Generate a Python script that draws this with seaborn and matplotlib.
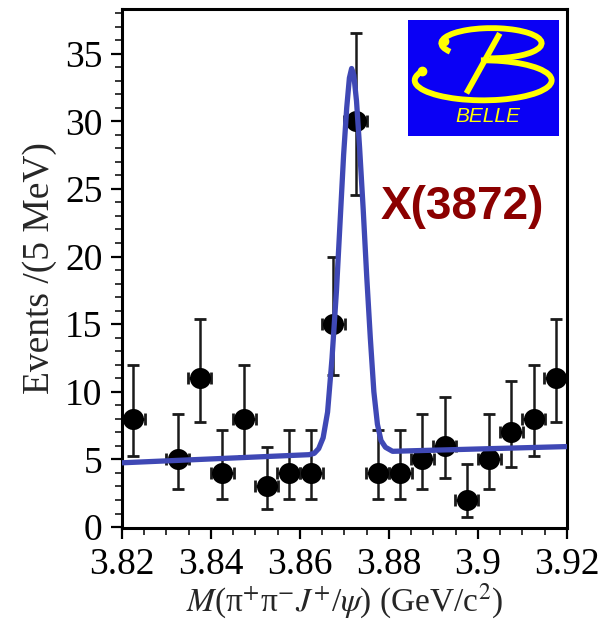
import numpy as np
import pandas as pd
import seaborn as sns
import matplotlib
matplotlib.use("Agg")
import matplotlib.pyplot as plt
from matplotlib.patches import Arc, Rectangle
from matplotlib.ticker import MultipleLocator

# ---- data ----
mass = [3.8225, 3.8325, 3.8375, 3.8425, 3.8475, 3.8525, 3.8575, 3.8625, 3.8675, 3.8725,
        3.8775, 3.8825, 3.8875, 3.8925, 3.8975, 3.9025, 3.9075, 3.9125, 3.9175]
events = [8, 5, 11, 4, 8, 3, 4, 4, 15, 30, 4, 4, 5, 6, 2, 5, 7, 8, 11]
err_lo = [2.77, 2.16, 3.27, 1.91, 2.77, 1.63, 1.91, 1.91, 3.77, 5.45,
          1.91, 1.91, 2.16, 2.38, 1.29, 2.16, 2.58, 2.77, 3.27]
err_hi = [3.95, 3.38, 4.41, 3.16, 3.95, 2.92, 3.16, 3.16, 4.96, 6.55,
          3.16, 3.16, 3.38, 3.58, 2.64, 3.38, 3.77, 3.95, 4.41]
bin_half = 0.0026

fit_x = [3.8200, 3.8620, 3.8632, 3.8642, 3.8652, 3.8662, 3.8672, 3.8682, 3.8690, 3.8698,
         3.8705, 3.8711, 3.8716, 3.8721, 3.8727, 3.8734, 3.8742, 3.8750, 3.8758, 3.8766,
         3.8774, 3.8782, 3.8792, 3.8808, 3.9200]
fit_y = [4.75, 5.35, 5.45, 5.8, 6.6, 8.5, 12.5, 17.5, 22.5, 27.5,
         31.0, 33.2, 33.9, 33.4, 31.5, 28.0, 23.5, 18.5, 14.0, 10.0,
         7.6, 6.4, 5.9, 5.6, 5.95]

x_ticks = [3.82, 3.84, 3.86, 3.88, 3.90, 3.92]
x_tick_labels = ["3.82", "3.84", "3.86", "3.88", "3.9", "3.92"]
y_ticks = [0, 5, 10, 15, 20, 25, 30, 35]

sns.set_theme(style="ticks")
plt.rcParams["font.family"] = ["Liberation Serif", "DejaVu Serif"]
plt.rcParams["mathtext.fontset"] = "stix"

fig = plt.figure(figsize=(6.03, 6.25), dpi=100)
ax = fig.add_axes([0.2023, 0.1552, 0.738, 0.8304])

df = pd.DataFrame({"mass": mass, "events": events})
fit = pd.DataFrame({"x": fit_x, "y": fit_y})

ax.errorbar(df["mass"], df["events"], yerr=[err_lo, err_hi], xerr=bin_half,
            fmt="none", ecolor="#1a1a1a", elinewidth=1.8, capsize=4.5, capthick=2.0, zorder=2)
sns.scatterplot(data=df, x="mass", y="events", ax=ax, s=230, color="black",
                edgecolor="black", linewidth=0, zorder=3, legend=False)
sns.lineplot(data=fit, x="x", y="y", ax=ax, color="#3F48B5", linewidth=3.8,
             sort=False, estimator=None, zorder=4)
ax.lines[-1].set_solid_joinstyle("round")
ax.lines[-1].set_solid_capstyle("round")

ax.set_xlim(3.82, 3.92)
ax.set_ylim(-0.07, 38.3)
ax.set_xticks(x_ticks)
ax.set_xticklabels(x_tick_labels)
ax.set_yticks(y_ticks)
ax.xaxis.set_minor_locator(MultipleLocator(0.005))
ax.yaxis.set_minor_locator(MultipleLocator(1))
ax.tick_params(axis="both", which="major", direction="out", length=8, width=1.6,
               labelsize=27, colors="black", pad=6)
ax.tick_params(axis="both", which="minor", direction="out", length=5, width=1.3)
ax.tick_params(top=False, right=False, which="both")
for sp in ax.spines.values():
    sp.set_visible(True)
    sp.set_linewidth(2.2)
    sp.set_color("black")

ax.set_xlabel(r"$M$(π$^{+}$π$^{-}$$J^{+}$/$\psi$) (GeV/c$^{2}$)", fontsize=24, labelpad=0)
ax.set_ylabel("Events /(5 MeV)", fontsize=27, labelpad=6)

ax.text(0.764, 0.618, "X(3872)", transform=ax.transAxes, ha="center", va="center",
        fontsize=33, fontweight="bold", color="#8B0000",
        family=["Liberation Sans", "DejaVu Sans"])

# ---- BELLE logo ----
lax = fig.add_axes([0.6766, 0.7824, 0.2504, 0.1856])
lax.set_xlim(0, 1)
lax.set_ylim(0, 1)
lax.set_axis_off()
lax.add_patch(Rectangle((0, 0), 1, 1, facecolor="#0A00F5", edgecolor="none",
                        transform=lax.transAxes, zorder=0))
yel = "#FFFF00"
lax.add_patch(Arc((0.553, 0.80), 0.664, 0.26, theta1=-95, theta2=195,
                  color=yel, linewidth=4.2, zorder=2))
lax.add_patch(Arc((0.498, 0.48), 0.907, 0.345, theta1=170, theta2=455,
                  color=yel, linewidth=4.2, zorder=2))
lax.plot([0.608, 0.387], [0.885, 0.368], color=yel, linewidth=4.2,
         solid_capstyle="butt", zorder=2)
lax.plot([0.24], [0.82], marker="o", markersize=6, color=yel, zorder=2)
lax.plot([0.09], [0.56], marker="o", markersize=6, color=yel, zorder=2)
lax.text(0.531, 0.165, "BELLE", ha="center", va="center", fontsize=15,
         style="italic", color=yel, family=["Liberation Sans", "DejaVu Sans"])

fig.savefig("out.png", dpi=100)
